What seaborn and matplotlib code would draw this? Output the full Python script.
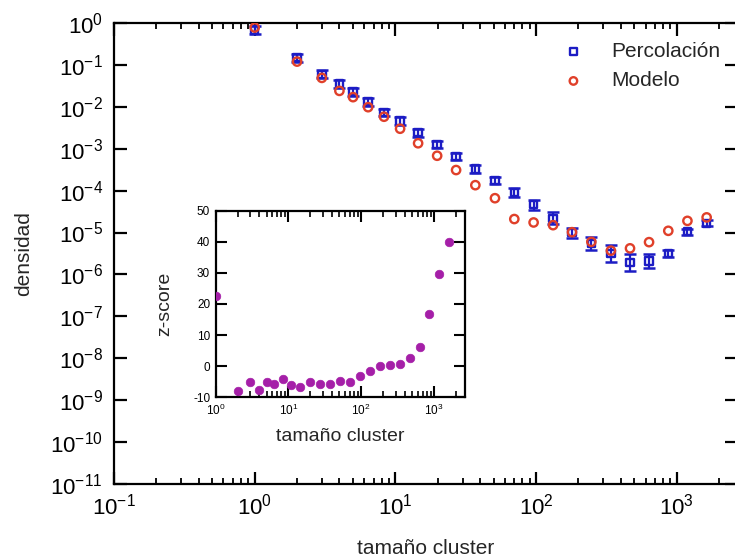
import numpy as np
import pandas as pd
import matplotlib
matplotlib.use("Agg")
import matplotlib.pyplot as plt
import seaborn as sns
from matplotlib.ticker import LogLocator, NullLocator, NullFormatter, FixedLocator

# ---------------- data ----------------
cluster_size = [1, 2, 3, 4, 5, 6.4, 8.3, 10.8, 14.5, 19.8, 27, 37, 51, 70, 96,
                132, 180, 247, 340, 465, 635, 870, 1190, 1630]
dens_percolacion = [0.68, 0.148, 0.060, 0.0347, 0.0229, 0.0132, 0.0074, 0.0046,
                    0.0024, 0.00126, 6.5e-4, 3.3e-4, 1.74e-4, 9.1e-5, 4.6e-5,
                    2.2e-5, 1.0e-5, 5.5e-6, 3.2e-6, 1.9e-6, 2.1e-6, 3.2e-6,
                    1.05e-5, 1.66e-5]
dens_modelo = [0.78, 0.120, 0.049, 0.024, 0.017, 0.0098, 0.0058, 0.0030,
               0.00135, 6.8e-4, 3.1e-4, 1.35e-4, 6.6e-5, 2.1e-5, 1.74e-5,
               1.5e-5, 1.02e-5, 6.0e-6, 3.7e-6, 4.2e-6, 5.9e-6, 1.1e-5,
               1.9e-5, 2.3e-5]
# half width of the error bars, in decades
err_decades = [0.09, 0.09, 0.09, 0.09, 0.09, 0.09, 0.09, 0.09, 0.09, 0.09,
               0.09, 0.09, 0.09, 0.10, 0.12, 0.15, 0.12, 0.16, 0.20, 0.20,
               0.16, 0.08, 0.07, 0.07]
zscore = [22.5, -8.0, -5.1, -7.5, -5.1, -5.7, -4.1, -5.9, -6.6, -5.1, -5.6,
          -5.7, -4.6, -5.0, -3.2, -1.6, 0.0, 0.3, 0.75, 2.5, 6.1, 16.8, 29.8, 40.0]

labels_series = ["Percolación", "Modelo"]
x_label = "tamaño cluster"
y_label = "densidad"
inset_y_label = "z-score"

df = pd.DataFrame({"size": cluster_size, "perc": dens_percolacion,
                   "modelo": dens_modelo, "err": err_decades, "z": zscore})

# ---------------- style ----------------
sns.set_theme(style="ticks")
plt.rcParams["font.family"] = ["Liberation Sans", "DejaVu Sans"]
plt.rcParams["mathtext.fontset"] = "custom"
plt.rcParams["mathtext.rm"] = "Liberation Sans"
plt.rcParams["mathtext.it"] = "Liberation Sans:italic"
plt.rcParams["mathtext.bf"] = "Liberation Sans:bold"
plt.rcParams["axes.linewidth"] = 1.5
plt.rcParams["axes.unicode_minus"] = False

BLUE = "#1c1cc4"
RED = "#e0402a"
PURPLE = "#a51fa8"

W, H = 735, 560
fig = plt.figure(figsize=(W / 100, H / 100), dpi=100)

# main axes (pixel geometry)
L, R, T, B = 114, 737, 23, 484
ax = fig.add_axes([L / W, 1 - B / H, (R - L) / W, (B - T) / H])
ax.set_xscale("log")
ax.set_yscale("log")
x_max = 10 ** ((R - L) / 140.7 - 1)
ax.set_xlim(0.1, x_max)
ax.set_ylim(1e-11, 1)

# error bars for Percolación
e = np.array(df["err"])
yv = np.array(df["perc"])
ax.errorbar(df["size"], yv, yerr=[yv * (1 - 10 ** (-e)), yv * (10 ** e - 1)],
            fmt="none", ecolor=BLUE, elinewidth=1.6, capsize=4.6, capthick=1.8,
            zorder=2)

sns.scatterplot(data=df, x="size", y="perc", ax=ax, marker="s", s=28,
                facecolor="none", edgecolor=BLUE, linewidth=1.7,
                label=labels_series[0], zorder=3)
sns.scatterplot(data=df, x="size", y="modelo", ax=ax, marker="o", s=36,
                facecolor="none", edgecolor=RED, linewidth=1.7,
                label=labels_series[1], zorder=4)

ax.yaxis.set_major_locator(LogLocator(base=10, numticks=20))
ax.yaxis.set_minor_locator(NullLocator())
ax.xaxis.set_major_locator(LogLocator(base=10, numticks=20))
ax.xaxis.set_minor_locator(LogLocator(base=10, subs=np.arange(2, 10), numticks=40))
ax.xaxis.set_minor_formatter(NullFormatter())
ax.tick_params(which="both", direction="in", top=True, right=True,
               labelsize=16, colors="black")
ax.tick_params(which="major", length=9, width=1.6)
ax.tick_params(which="minor", length=4, width=1.3)
ax.tick_params(axis="y", which="major", pad=8)
ax.tick_params(axis="x", which="major", pad=7)
ax.set_xlabel(x_label, fontsize=15, labelpad=14)
ax.set_ylabel(y_label, fontsize=15, labelpad=12)
for sp in ax.spines.values():
    sp.set_linewidth(1.6)
    sp.set_color("black")

leg = ax.legend(loc="upper left", bbox_to_anchor=(563 / W, 1 - 42 / H),
                bbox_transform=fig.transFigure, frameon=False, fontsize=15,
                handlelength=1.0, handletextpad=1.3, labelspacing=0.5,
                borderpad=0, borderaxespad=0, markerscale=0.9)

# inset axes
iL, iR, iT, iB = 215.7, 465, 210.7, 397.3
ax2 = fig.add_axes([iL / W, 1 - iB / H, (iR - iL) / W, (iB - iT) / H])
sns.scatterplot(data=df, x="size", y="z", ax=ax2, marker="o", s=38,
                color=PURPLE, edgecolor=PURPLE, linewidth=0.5, zorder=3)
ax2.set_xscale("log")
ax2.set_xlim(1, x_max)
ax2.set_ylim(-10, 50)
ax2.yaxis.set_major_locator(FixedLocator([-10, 0, 10, 20, 30, 40, 50]))
ax2.yaxis.set_minor_locator(NullLocator())
ax2.xaxis.set_major_locator(LogLocator(base=10, numticks=20))
ax2.xaxis.set_minor_locator(LogLocator(base=10, subs=np.arange(2, 10), numticks=40))
ax2.xaxis.set_minor_formatter(NullFormatter())
ax2.tick_params(which="both", direction="in", top=True, right=True,
                labelsize=8.5, colors="black")
ax2.tick_params(which="major", length=8, width=1.5, pad=4)
ax2.tick_params(which="minor", length=4, width=1.2)
ax2.set_xlabel(x_label, fontsize=14, labelpad=7)
ax2.set_ylabel(inset_y_label, fontsize=14, labelpad=14)
for sp in ax2.spines.values():
    sp.set_linewidth(1.6)
    sp.set_color("black")
if ax2.get_legend() is not None:
    ax2.get_legend().remove()

fig.savefig("out.png", dpi=100)
